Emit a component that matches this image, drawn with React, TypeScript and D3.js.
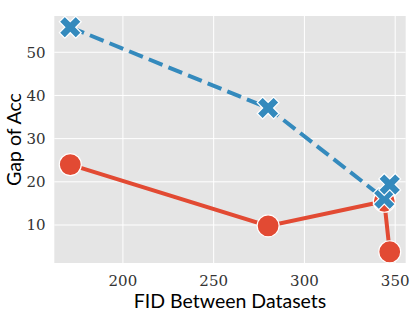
import React, { useEffect, useRef } from 'react';
import * as d3 from 'd3';

// values
const fid = [171, 280, 344, 347];
const gapRed = [24.0, 9.8, 15.5, 3.8];
const gapBlue = [55.8, 37.1, 16.1, 19.4];
const xTicks = [200, 250, 300, 350];
const yTicks = [10, 20, 30, 40, 50];

const serif = 'DejaVu Serif';
const sans = "Lato, 'Open Sans', sans-serif";

export default function App() {
  const ref = useRef<SVGSVGElement>(null);

  useEffect(() => {
    const width = 415, height = 311;
    const margin = { top: 16, right: 9.3, bottom: 48, left: 54.3 };

    const svg = d3.select(ref.current);
    svg.selectAll('*').remove();

    // matplotlib-like 5% padding around the data
    const xExt = d3.extent(fid) as [number, number];
    const xPad = (xExt[1] - xExt[0]) * 0.05;
    const allY = gapRed.concat(gapBlue);
    const yExt = d3.extent(allY) as [number, number];
    const yPad = (yExt[1] - yExt[0]) * 0.05;

    const x = d3.scaleLinear()
      .domain([xExt[0] - xPad, xExt[1] + xPad])
      .range([margin.left, width - margin.right]);
    const y = d3.scaleLinear()
      .domain([yExt[0] - yPad, yExt[1] + yPad])
      .range([height - margin.bottom, margin.top]);

    // background
    svg.append('rect')
      .attr('x', margin.left)
      .attr('y', margin.top)
      .attr('width', width - margin.left - margin.right)
      .attr('height', height - margin.top - margin.bottom)
      .attr('fill', '#e5e5e5');

    // grid
    svg.append('g')
      .selectAll('line')
      .data(xTicks)
      .enter()
      .append('line')
      .attr('x1', d => x(d)).attr('x2', d => x(d))
      .attr('y1', margin.top).attr('y2', height - margin.bottom)
      .attr('stroke', '#fff').attr('stroke-width', 1);
    svg.append('g')
      .selectAll('line')
      .data(yTicks)
      .enter()
      .append('line')
      .attr('y1', d => y(d)).attr('y2', d => y(d))
      .attr('x1', margin.left).attr('x2', width - margin.right)
      .attr('stroke', '#fff').attr('stroke-width', 1);

    // tick labels
    svg.append('g')
      .selectAll('text')
      .data(xTicks)
      .enter()
      .append('text')
      .attr('x', d => x(d))
      .attr('y', 285.5)
      .attr('text-anchor', 'middle')
      .style('font-family', serif)
      .style('font-size', '15px')
      .attr('fill', '#333')
      .text(d => d);
    svg.append('g')
      .selectAll('text')
      .data(yTicks)
      .enter()
      .append('text')
      .attr('x', 45.5)
      .attr('y', d => y(d))
      .attr('dy', '0.35em')
      .attr('text-anchor', 'end')
      .style('font-family', serif)
      .style('font-size', '15px')
      .attr('fill', '#333')
      .text(d => d);

    // axis labels
    svg.append('text')
      .attr('x', (margin.left + width - margin.right) / 2)
      .attr('y', 308)
      .attr('text-anchor', 'middle')
      .attr('font-family', sans)
      .attr('font-size', 19.5)
      .attr('fill', '#000')
      .text('FID Between Datasets');
    svg.append('text')
      .attr('transform', `translate(21, ${(margin.top + height - margin.bottom) / 2}) rotate(-90)`)
      .attr('text-anchor', 'middle')
      .attr('font-family', sans)
      .attr('font-size', 19.5)
      .attr('fill', '#000')
      .text('Gap of Acc');

    const red = '#E24A33', blue = '#348ABD';

    const line = d3.line<[number, number]>()
      .x(d => x(d[0]))
      .y(d => y(d[1]));

    const redPts = fid.map((f, i) => [f, gapRed[i]] as [number, number]);
    const bluePts = fid.map((f, i) => [f, gapBlue[i]] as [number, number]);

    // red series
    svg.append('path')
      .datum(redPts)
      .attr('d', line)
      .attr('fill', 'none')
      .attr('stroke', red)
      .attr('stroke-width', 4);
    svg.append('g')
      .selectAll('circle')
      .data(redPts)
      .enter()
      .append('circle')
      .attr('cx', d => x(d[0]))
      .attr('cy', d => y(d[1]))
      .attr('r', 11)
      .attr('fill', red)
      .attr('stroke', '#fff')
      .attr('stroke-width', 1.2);

    // blue series
    svg.append('path')
      .datum(bluePts)
      .attr('d', line)
      .attr('fill', 'none')
      .attr('stroke', blue)
      .attr('stroke-width', 4)
      .attr('stroke-dasharray', '14.8,6.4');
    const cross = d3.symbol().type(d3.symbolCross).size(300);
    svg.append('g')
      .selectAll('path')
      .data(bluePts)
      .enter()
      .append('path')
      .attr('d', cross)
      .attr('transform', d => `translate(${x(d[0])},${y(d[1])}) rotate(45)`)
      .attr('fill', blue)
      .attr('stroke', '#fff')
      .attr('stroke-width', 1.2);
  }, []);

  return (
    <div style={{ position: 'absolute', left: 0, top: 0 }}>
      <svg ref={ref} width={415} height={311} style={{ display: 'block', background: '#fff' }}></svg>
    </div>
  );
}
